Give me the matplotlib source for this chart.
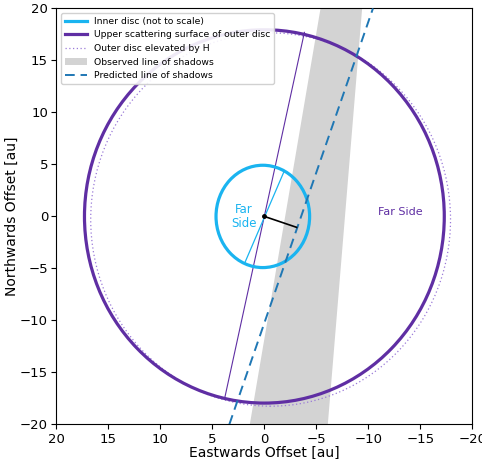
import matplotlib
matplotlib.use("Agg")
import matplotlib.pyplot as plt
from matplotlib.patches import Ellipse, Polygon
import numpy as np

# ---- data ----
outer_center = (0.0, 0.0)
outer_semi = (17.3, 17.95)          # semi-axes (x, y) in au
elev_center = (-0.6, -0.3)
elev_semi = (17.3, 17.95)
inner_center = (0.15, 0.0)
inner_semi = (4.5, 4.92)

outer_chord_x = [3.8, -3.85]
outer_chord_y = [-17.4, 17.7]
inner_chord_x = [1.86, -1.93]
inner_chord_y = [-4.41, 4.41]

band_x = [1.4, -5.4, -9.4, -6.1]
band_y = [-20, 20, 20, -20]

pred_x = [3.37, -10.44]
pred_y = [-20, 20]

perp_x = [0.0, -3.1]
perp_y = [0.0, -1.05]

ticks = [20, 15, 10, 5, 0, -5, -10, -15, -20]
yticks = [-20, -15, -10, -5, 0, 5, 10, 15, 20]

c_inner = '#1ab4f0'
c_outer = '#5f2ea3'
c_elev = '#9a7ad8'
c_band = '#d3d3d3'
c_pred = '#1f77b4'

fig = plt.figure(figsize=(4.82, 4.59), dpi=100)
ax = fig.add_axes([0.117, 0.074, 0.863, 0.909])

band = Polygon(np.column_stack([band_x, band_y]), closed=True, facecolor=c_band,
               edgecolor='none', zorder=1, label='Observed line of shadows')
ax.add_patch(band)

inner = Ellipse(inner_center, 2 * inner_semi[0], 2 * inner_semi[1], fill=False,
                edgecolor=c_inner, lw=2.3, zorder=4)
ax.add_patch(inner)
outer = Ellipse(outer_center, 2 * outer_semi[0], 2 * outer_semi[1], fill=False,
                edgecolor=c_outer, lw=2.3, zorder=4)
ax.add_patch(outer)
elev = Ellipse(elev_center, 2 * elev_semi[0], 2 * elev_semi[1], fill=False,
               edgecolor=c_elev, lw=0.9, ls=(0, (1, 2)), zorder=3)
ax.add_patch(elev)

ax.plot(outer_chord_x, outer_chord_y, color=c_outer, lw=0.8, zorder=3)
ax.plot(inner_chord_x, inner_chord_y, color=c_inner, lw=0.9, zorder=3)
ax.plot(pred_x, pred_y, color=c_pred, lw=1.4, ls=(0, (5, 3)), zorder=5)
ax.plot(perp_x, perp_y, color='black', lw=1.2, zorder=6)
ax.plot(perp_x[:1], perp_y[:1], 'o', color='black', ms=2.5, zorder=6)

ax.text(1.96, 0.0, 'Far\nSide', color=c_inner, fontsize=8.5, ha='center', va='center',
        linespacing=1.05)
ax.text(-13.1, 0.45, 'Far Side', color=c_outer, fontsize=8, ha='center', va='center')

# legend handles
h1, = ax.plot([], [], color=c_inner, lw=2.3, label='Inner disc (not to scale)')
h2, = ax.plot([], [], color=c_outer, lw=2.3, label='Upper scattering surface of outer disc')
h3, = ax.plot([], [], color=c_elev, lw=0.9, ls=(0, (1, 2)), label='Outer disc elevated by H')
h5, = ax.plot([], [], color=c_pred, lw=1.4, ls=(0, (5, 3)), label='Predicted line of shadows')
ax.legend(handles=[h1, h2, h3, band, h5], loc='upper left', fontsize=6.7,
          framealpha=0.9, borderpad=0.4, labelspacing=0.5, handlelength=2.4,
          handletextpad=0.7, borderaxespad=0.5)

ax.set_xlim(20, -20)
ax.set_ylim(-20, 20)
ax.set_aspect('equal', adjustable='box')
ax.set_xticks(ticks)
ax.set_yticks(yticks)
ax.tick_params(labelsize=9.5, pad=2.5)
ax.set_xlabel('Eastwards Offset [au]', fontsize=10, labelpad=0)
ax.set_ylabel('Northwards Offset [au]', fontsize=10, labelpad=1)

fig.savefig('out.png', dpi=100)
